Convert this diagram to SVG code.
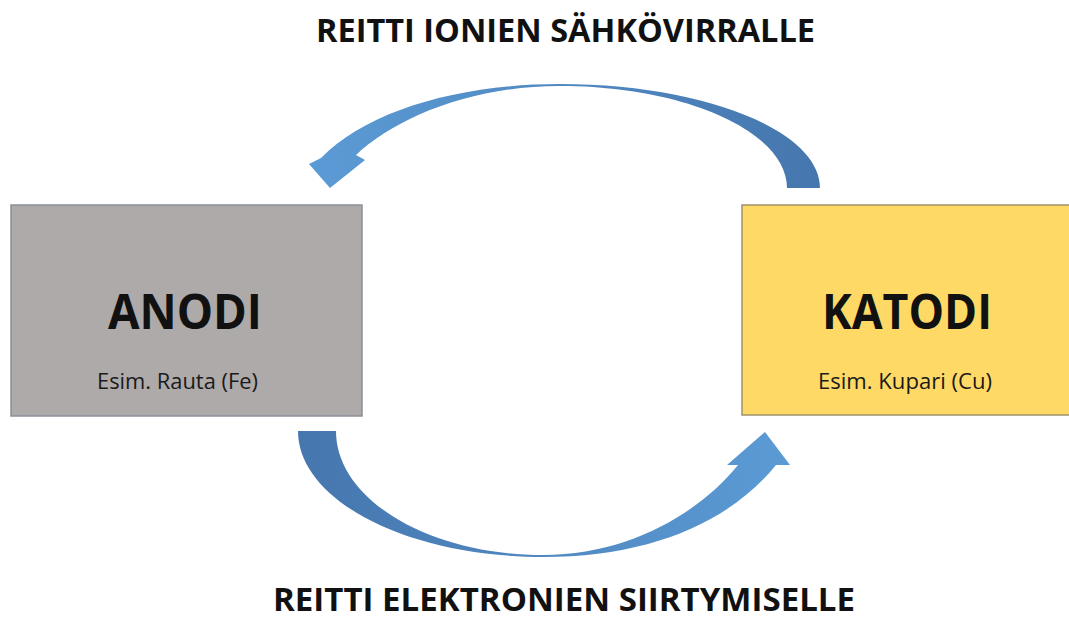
<svg xmlns="http://www.w3.org/2000/svg" width="1069" height="618" viewBox="0 0 1069 618">
<defs>
<style>
.title{font-family:"Open Sans","Liberation Sans",sans-serif;font-weight:bold;font-size:32px;fill:#111;}
.big{font-family:"Open Sans","Liberation Sans",sans-serif;font-weight:bold;font-size:49px;fill:#111;}
.sub{font-family:"Open Sans","Liberation Sans",sans-serif;font-size:22px;fill:#1a1a1a;}
.arrow{stroke:none;}
</style>
<linearGradient id="gTop" x1="310" y1="0" x2="820" y2="0" gradientUnits="userSpaceOnUse">
<stop offset="0" stop-color="#5b9bd5"/>
<stop offset="1" stop-color="#4676ae"/>
</linearGradient>
<linearGradient id="gBot" x1="298" y1="0" x2="790" y2="0" gradientUnits="userSpaceOnUse">
<stop offset="0" stop-color="#4676ae"/>
<stop offset="1" stop-color="#5b9bd5"/>
</linearGradient>
</defs>
<rect width="1069" height="618" fill="#ffffff"/>
<g id="anodi">
<rect x="11" y="205" width="351" height="211" fill="#aeaaaa" stroke="#8a9099" stroke-width="1.5"/>
<text class="big" x="185" y="329" text-anchor="middle" textLength="154" lengthAdjust="spacingAndGlyphs">ANODI</text>
<text class="sub" x="177.5" y="389" text-anchor="middle" textLength="161" lengthAdjust="spacingAndGlyphs">Esim. Rauta (Fe)</text>
</g>
<g id="katodi">
<rect x="742" y="205" width="340" height="210" fill="#ffd966" stroke="#a0906a" stroke-width="1.5"/>
<text class="big" x="907" y="329" text-anchor="middle" textLength="170" lengthAdjust="spacingAndGlyphs">KATODI</text>
<text class="sub" x="905" y="389" text-anchor="middle" textLength="174" lengthAdjust="spacingAndGlyphs">Esim. Kupari (Cu)</text>
</g>
<g id="connectors">
<path id="ion-arrow" class="arrow" fill="url(#gTop)" d="M820,188 C820,130.6 703.6,84 560,84 C460,84 368,110 321,158 L309,164 L330,188 L365,160 L356,155 C396,118 470,86 560,86 C685.4,86 787,131.7 787,188 Z"/>
<path id="electron-arrow" class="arrow" fill="url(#gBot)" d="M298,431 C298,500.6 407.7,557 543,557 C650,557 730,522 776,465 L790,465 L765,432 L727,465 L738,465 C700,512 630,555 543,555 C428.7,555 336,499.5 336,431 Z"/>
</g>
<g id="labels">
<text class="title" x="565.5" y="42" text-anchor="middle" textLength="499" lengthAdjust="spacingAndGlyphs">REITTI IONIEN SÄHKÖVIRRALLE</text>
<text class="title" x="564" y="611" text-anchor="middle" textLength="582" lengthAdjust="spacingAndGlyphs">REITTI ELEKTRONIEN SIIRTYMISELLE</text>
</g>
</svg>
